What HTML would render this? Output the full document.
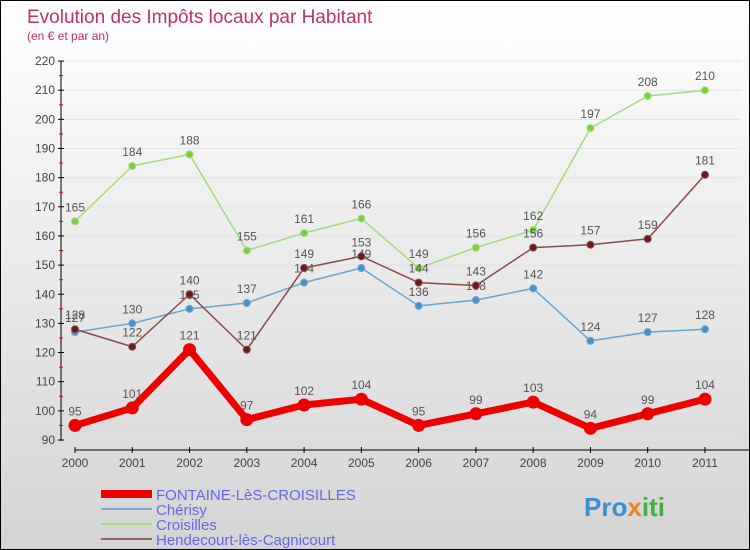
<!DOCTYPE html>
<html><head><meta charset="utf-8"><style>
body{margin:0}
#wrap{width:748px;height:548px;border:1px solid #000;background:linear-gradient(#fff,#d4d4d4);position:relative;font-family:"Liberation Sans",sans-serif;overflow:hidden}
svg text{font-family:"Liberation Sans",sans-serif}
</style></head><body>
<div id="wrap">
<svg id="c" width="748" height="548">
<text x="26" y="22" font-size="19" fill="#c0306a">Evolution des Impôts locaux par Habitant</text>
<text x="26" y="39" font-size="12" fill="#c0306a">(en € et par an)</text>
<text x="583" y="515" font-size="26" font-weight="bold" fill="#3a8fd0">Pro<tspan fill="#f08020">x</tspan><tspan fill="#40b040">iti</tspan></text>
</svg>
</div>
<script>
const years=["2000","2001","2002","2003","2004","2005","2006","2007","2008","2009","2010","2011"];
const fontaine=[95,101,121,97,102,104,95,99,103,94,99,104];
const cherisy=[127,130,135,137,144,149,136,138,142,124,127,128];
const croisilles=[165,184,188,155,161,166,149,156,162,197,208,210];
const hendecourt=[128,122,140,121,149,153,144,143,156,157,159,181];
const yTicks=[90,100,110,120,130,140,150,160,170,180,190,200,210,220];
const NS="http://www.w3.org/2000/svg";
const svg=document.getElementById('c');
const X=i=>74+i*57.27, Y=v=>439-(v-90)*2.915;
function mk(t,a){const e=document.createElementNS(NS,t);for(const k in a)e.setAttribute(k,a[k]);svg.appendChild(e);return e;}
let ax=mk('line',{x1:60,y1:60,x2:60,y2:440,stroke:'#000'});


let xa=mk('line',{x1:74,y1:449,x2:748,y2:449,stroke:'#000'});


yTicks.forEach((v,i)=>{
 const g=mk('line',{x1:61,y1:Y(v),x2:740,y2:Y(v),stroke:'#e4e4e4'});
 
 
 mk('line',{x1:57,y1:Y(v),x2:63,y2:Y(v),stroke:'#000'});
 if(i<yTicks.length-1)mk('line',{x1:58,y1:Y(v+5),x2:62,y2:Y(v+5),stroke:'#e00'});
 const t=mk('text',{x:54,y:Y(v)+4,'text-anchor':'end','font-size':12,fill:'#444'});
 t.textContent=v;
 
 
});
years.forEach((y,i)=>{
 mk('line',{x1:X(i),y1:446,x2:X(i),y2:452,stroke:'#000'});
 const t=mk('text',{x:X(i),y:466,'text-anchor':'middle','font-size':12,fill:'#444'});
 t.textContent=y;
 
 
});
function series(d,col,dot,w,r,name){
 const p=mk('polyline',{points:d.map((v,i)=>X(i)+','+Y(v)).join(' '),fill:'none',stroke:col,'stroke-width':w,'stroke-linejoin':'round'});
 
 
 d.forEach((v,i)=>{
  const c=mk('circle',{cx:X(i),cy:Y(v),r:r,fill:dot,stroke:col,'stroke-width':1});
  
  
  const t=mk('text',{x:X(i),y:Y(v)-10,'text-anchor':'middle','font-size':12,fill:'#555'});
  t.textContent=v;
  
  
 });
}
series(cherisy,'#6aa6d0','#4a90c8',1.5,3.5,'cherisy');
series(croisilles,'#a0dc80','#80cc40',1.5,3.5,'croisilles');
series(hendecourt,'#8a4a4a','#6a1a1a',1.5,3.5,'hendecourt');
series(fontaine,'#ee0000','#ee0000',7,6,'fontaine');
const legend=[["FONTAINE-LèS-CROISILLES","#ee0000",8],["Chérisy","#7aaed0",2],["Croisilles","#a0dc80",2],["Hendecourt-lès-Cagnicourt","#956060",2]];
legend.forEach((l,i)=>{
 const y=493+i*15;
 const ln=mk('line',{x1:100,y1:y,x2:151,y2:y,stroke:l[1],'stroke-width':l[2]});
 
 
 const t=mk('text',{x:155,y:y+6,'font-size':15,fill:'#6666ee'});
 t.textContent=l[0];
 
 
});
</script>
</body></html>
